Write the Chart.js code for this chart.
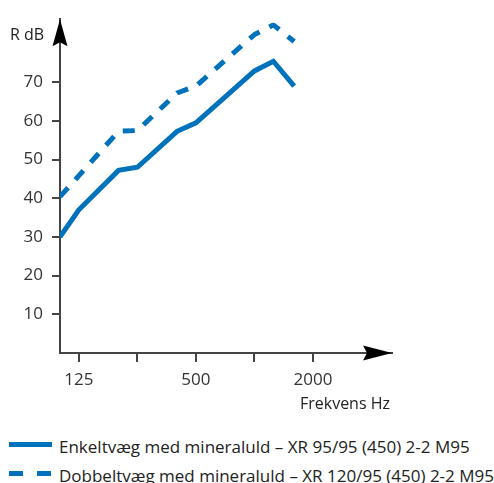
<!DOCTYPE html>
<html>
<head>
<meta charset="utf-8">
<script src="https://cdn.jsdelivr.net/npm/chart.js@4"></script>
<style>
  body { margin: 0; background: #fff; font-family: "Open Sans", sans-serif; }
  #wrap { position: relative; width: 494px; height: 483px; overflow: hidden; }
  canvas { position: absolute; left: 0; top: 0; }
  .key { position: absolute; left: 9px; width: 43px; height: 5px; }
  .txt { position: absolute; left: 59px; font-size: 17px; line-height: 20px; color: #222; white-space: nowrap; }
</style>
</head>
<body>
<div id="wrap">
  <canvas id="chart" width="494" height="420"></canvas>
  <div class="key" id="key1" style="top:442px"></div>
  <div class="txt" id="txt1" style="top:437px"></div>
  <div class="key" id="key2" style="top:471px"></div>
  <div class="txt" id="txt2" style="top:466px"></div>
</div>
<script>
// frequencies in Hz, values in dB
const singleFreq = [100, 125, 200, 250, 400, 500, 1000, 1250, 1600];
const singleDb   = [30, 37, 47.2, 48, 57.3, 59.5, 72.9, 75.4, 69];
const doubleFreq = [100, 200, 250, 400, 500, 1000, 1250, 1600];
const doubleDb   = [40.4, 57.3, 57.5, 67.2, 69, 82.3, 84.8, 80.5];

const xTicks = [125, 250, 500, 1000, 2000];
const xLabels = [125, 500, 2000];
const yTicks = [10, 20, 30, 40, 50, 60, 70];

const seriesNames = [
  'Enkeltvæg med mineraluld – XR 95/95 (450) 2-2 M95',
  'Dobbeltvæg med mineraluld – XR 120/95 (450) 2-2 M95',
];

const blue = '#0072bc';
const axisColor = '#444';
const font = '"Open Sans", sans-serif';

const toPoints = (xs, ys) => xs.map((x, i) => ({ x, y: ys[i] }));

// axis arrows and the two axis captions
const arrows = {
  id: 'arrows',
  afterDraw(chart) {
    const { ctx, chartArea: a } = chart;
    ctx.save();
    ctx.fillStyle = '#000';
    ctx.beginPath();
    ctx.moveTo(a.left, a.top);
    ctx.lineTo(a.left + 7.5, a.top + 27);
    ctx.lineTo(a.left, a.top + 23);
    ctx.lineTo(a.left - 7.5, a.top + 27);
    ctx.closePath();
    ctx.fill();

    ctx.beginPath();
    ctx.moveTo(a.right, a.bottom);
    ctx.lineTo(a.right - 29, a.bottom - 7.5);
    ctx.lineTo(a.right - 25, a.bottom);
    ctx.lineTo(a.right - 29, a.bottom + 7.5);
    ctx.closePath();
    ctx.fill();

    ctx.fillStyle = '#222';
    ctx.font = '16px ' + font;
    ctx.textAlign = 'left';
    ctx.textBaseline = 'alphabetic';
    ctx.fillText('R dB', 10, 40);
    ctx.textAlign = 'right';
    ctx.fillText('Frekvens Hz', 390, 409);
    ctx.restore();
  }
};

new Chart(document.getElementById('chart'), {
  type: 'line',
  data: {
    datasets: [
      {
        label: seriesNames[0],
        data: toPoints(singleFreq, singleDb),
        borderColor: blue,
        borderWidth: 5,
        borderJoinStyle: 'miter',
        pointRadius: 0,
        fill: false,
        tension: 0,
      },
      {
        label: seriesNames[1],
        data: toPoints(doubleFreq, doubleDb),
        borderColor: blue,
        borderWidth: 5,
        borderDash: [12, 11],
        borderJoinStyle: 'bevel',
        pointRadius: 0,
        fill: false,
        tension: 0,
      },
    ],
  },
  options: {
    responsive: false,
    animation: false,
    layout: { padding: { top: 10, right: 102, left: 0, bottom: 0 } },
    plugins: { legend: { display: false }, tooltip: { enabled: false } },
    scales: {
      x: {
        type: 'logarithmic',
        min: 100,
        max: 5095,
        afterFit: s => { s.height = 67; },
        afterBuildTicks: s => { s.ticks = xTicks.map(v => ({ value: v })); },
        border: { color: axisColor, width: 2 },
        grid: { drawOnChartArea: false, color: axisColor, lineWidth: 2, tickLength: 9 },
        ticks: {
          autoSkip: false,
          maxRotation: 0,
          padding: 8,
          color: '#333',
          font: { family: font, size: 17 },
          callback: v => (xLabels.includes(v) ? String(v) : ''),
        },
      },
      y: {
        min: 0,
        max: 86.27,
        afterFit: s => { s.width = 60; },
        afterBuildTicks: s => { s.ticks = yTicks.map(v => ({ value: v })); },
        border: { color: axisColor, width: 2 },
        grid: { drawOnChartArea: false, color: axisColor, lineWidth: 2, tickLength: 8 },
        ticks: {
          padding: 9,
          color: '#333',
          font: { family: font, size: 17 },
          callback: v => String(v),
        },
      },
    },
  },
  plugins: [arrows],
});

document.getElementById('key1').style.background = blue;
document.getElementById('key2').style.background =
  'repeating-linear-gradient(to right, ' + blue + ' 0 14.5px, transparent 14.5px 28px)';
document.getElementById('txt1').textContent = seriesNames[0];
document.getElementById('txt2').textContent = seriesNames[1];
</script>
</body>
</html>
